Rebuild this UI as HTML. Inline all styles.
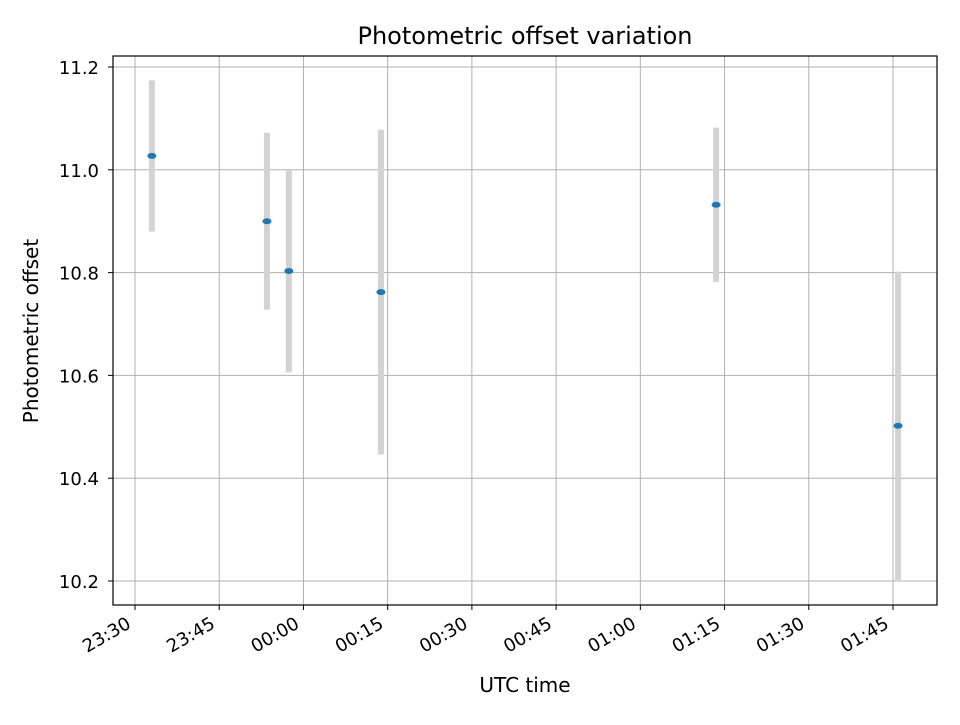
<!DOCTYPE html>
<html><head><meta charset="utf-8"><style>
body{margin:0;background:#fff;}
svg text{font-family:"DejaVu Sans","Liberation Sans",sans-serif;fill:#000;}
</style></head><body>
<svg id="chart" width="960" height="720" xmlns="http://www.w3.org/2000/svg">
<rect width="960" height="720" fill="#fff"/>
<g id="grid"></g>
<g id="marks"></g>
<rect x="113" y="56" width="824" height="549" fill="none" stroke="#000" stroke-width="1.2"/>
<g id="ticks"></g>
<text x="525" y="44" font-size="24" text-anchor="middle">Photometric offset variation</text>
<text x="525" y="692" font-size="20" text-anchor="middle">UTC time</text>
<text transform="translate(38,331) rotate(-90)" font-size="20" text-anchor="middle">Photometric offset</text>
</svg>
<script>
// minutes after 23:30
const times=[3.0,23.5,27.4,43.8,103.5,135.9];
const offsets=[11.027,10.900,10.803,10.762,10.932,10.502];
const errors=[0.147,0.172,0.197,0.316,0.150,0.300];
const xTickMinutes=[0,15,30,45,60,75,90,105,120,135];
const xTickLabels=["23:30","23:45","00:00","00:15","00:30","00:45","01:00","01:15","01:30","01:45"];
const yTicks=[10.2,10.4,10.6,10.8,11.0,11.2];
const yTickLabels=["10.2","10.4","10.6","10.8","11.0","11.2"];

const NS="http://www.w3.org/2000/svg";
const xs=m=>135+m*(84.222/15);
const ys=v=>581-(v-10.2)*514;
function mk(tag,attrs,parent){const e=document.createElementNS(NS,tag);for(const k in attrs)e.setAttribute(k,attrs[k]);parent.appendChild(e);return e;}
const grid=document.getElementById('grid'),marks=document.getElementById('marks'),ticks=document.getElementById('ticks');
xTickMinutes.forEach((m,i)=>{
  const x=xs(m);
  const g=mk('line',{x1:x,x2:x,y1:56,y2:605,stroke:'#b0b0b0','stroke-width':1},grid);
  
  
  const t=mk('line',{x1:x,x2:x,y1:605,y2:610,stroke:'#000'},ticks);
  
  
  const l=mk('text',{transform:`translate(${x-3},${627}) rotate(-30)`,'font-size':18,'text-anchor':'end'},ticks);
  l.textContent=xTickLabels[i];
  
  
});
yTicks.forEach((v,i)=>{
  const y=ys(v);
  const g=mk('line',{x1:113,x2:937,y1:y,y2:y,stroke:'#b0b0b0','stroke-width':1},grid);
  
  
  const t=mk('line',{x1:108,x2:113,y1:y,y2:y,stroke:'#000'},ticks);
  
  
  const l=mk('text',{x:99,y:y+7,'font-size':18,'text-anchor':'end'},ticks);
  l.textContent=yTickLabels[i];
  
  
});
times.forEach((m,i)=>{
  const x=xs(m);
  const e=mk('line',{x1:x,x2:x,y1:ys(offsets[i]+errors[i]),y2:ys(offsets[i]-errors[i]),stroke:'#d3d3d3','stroke-width':6},marks);
  
  
});
times.forEach((m,i)=>{
  const p=mk('ellipse',{cx:xs(m),cy:ys(offsets[i]),rx:4.5,ry:3,fill:'#1f77b4'},marks);
  
  
});
</script>
</body></html>
